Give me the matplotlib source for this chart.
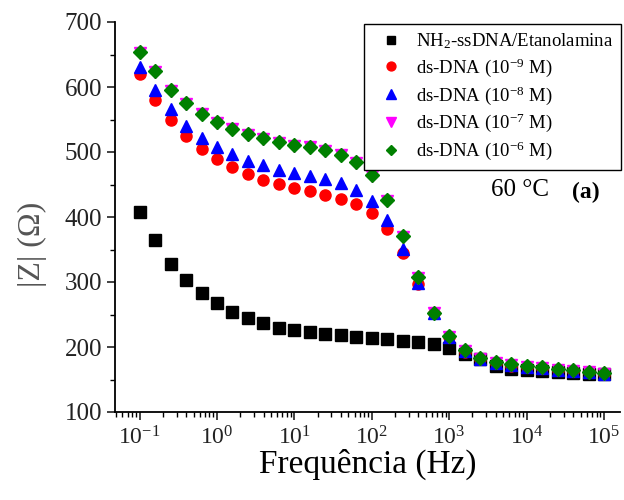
import numpy as np
import matplotlib
matplotlib.use('Agg')
import matplotlib.pyplot as plt

plt.rcParams['font.family'] = ['Liberation Serif', 'DejaVu Serif']
plt.rcParams['mathtext.fontset'] = 'custom'
plt.rcParams['mathtext.rm'] = 'Liberation Serif'
plt.rcParams['mathtext.it'] = 'Liberation Serif:italic'
plt.rcParams['mathtext.bf'] = 'Liberation Serif:bold'

# Frequências: 5 pontos por década, de 0.1 Hz a 100 kHz
freq = 10 ** np.linspace(-1, 5, 31)

z_etanolamina = [407, 364, 328, 303, 283, 267, 254, 245, 237, 230,
                 226, 223, 220, 218, 216, 214, 212, 210, 208, 205,
                 198, 189, 181, 171, 166, 164, 163, 161, 160, 159, 159]
z_dna_9 = [620, 580, 549, 524, 504, 489, 477, 466, 457, 451,
           445, 440, 434, 428, 420, 406, 382, 344, 297, 252,
           215, 193, 181, 175, 171, 169, 167, 165, 163, 161, 159]
z_dna_8 = [631, 596, 566, 540, 522, 508, 497, 486, 480, 473,
           467, 463, 458, 452, 442, 425, 396, 351, 298, 252,
           215, 194, 182, 176, 173, 170, 168, 165, 163, 161, 159]
z_dna_7 = [653, 623, 594, 574, 558, 545, 535, 526, 520, 514,
           510, 507, 502, 495, 483, 463, 425, 370, 306, 252,
           216, 194, 182, 176, 173, 170, 168, 165, 163, 161, 159]
z_dna_6 = [654, 624, 595, 575, 559, 546, 536, 527, 522, 515,
           511, 508, 503, 496, 484, 464, 426, 371, 307, 253,
           217, 195, 183, 177, 174, 171, 169, 166, 164, 162, 160]

labels = ['NH$_2$-ssDNA/Etanolamina', 'ds-DNA (10$^{-9}$ M)',
          'ds-DNA (10$^{-8}$ M)', 'ds-DNA (10$^{-7}$ M)',
          'ds-DNA (10$^{-6}$ M)']
x_ticks = [1e-1, 1e0, 1e1, 1e2, 1e3, 1e4, 1e5]
x_ticklabels = ['10$^{-1}$', '10$^{0}$', '10$^{1}$', '10$^{2}$',
                '10$^{3}$', '10$^{4}$', '10$^{5}$']

fig = plt.figure(figsize=(6.24, 5.0), dpi=100)
ax = fig.add_axes([0.184, 0.176, 0.81, 0.78])

ax.plot(freq, z_etanolamina, 's', color='black', ms=8, label=labels[0])
ax.plot(freq, z_dna_9, 'o', color='red', ms=8, label=labels[1])
ax.plot(freq, z_dna_8, '^', color='blue', ms=8.5, label=labels[2])
ax.plot(freq, z_dna_7, 'v', color='magenta', ms=8.5, label=labels[3])
ax.plot(freq, z_dna_6, 'D', color='green', ms=7, label=labels[4])

ax.set_xscale('log')
ax.set_xlim(10 ** -1.32, 10 ** 5.21)
ax.set_xticks(x_ticks)
ax.set_xticklabels(x_ticklabels)
ax.set_xticks([m * 10.0 ** e for e in range(-2, 6) for m in range(2, 10)
               if 10 ** -1.32 < m * 10.0 ** e < 10 ** 5.21], minor=True)
ax.set_ylim(100, 700)
ax.set_yticks(np.arange(100, 701, 100))
ax.set_yticks(np.arange(150, 700, 100), minor=True)

ax.spines['top'].set_visible(False)
ax.spines['right'].set_visible(False)
ax.spines['left'].set_linewidth(1.3)
ax.spines['bottom'].set_linewidth(1.3)
ax.tick_params(which='major', direction='out', length=6, width=1.2,
               colors='#222222')
ax.tick_params(axis='y', which='major', labelsize=18, pad=3)
ax.tick_params(axis='x', which='major', labelsize=17, pad=4)
ax.tick_params(which='minor', direction='out', length=3.5, width=1.0,
               labelbottom=False)

ax.set_xlabel('Frequência (Hz)', fontsize=24, labelpad=0)
ax.set_ylabel('|Z| (Ω)', fontsize=23, color='#555555')
ax.yaxis.set_label_coords(-0.135, 0.43)

ax.text(10 ** 3.92, 441, '60 °C', fontsize=18, ha='center', va='center')
ax.text(10 ** 4.76, 437, '(a)', fontsize=17, fontweight='bold',
        ha='center', va='center')

leg = ax.legend(loc='upper right', bbox_to_anchor=(1.005, 1.0), fontsize=13.5,
                fancybox=False, framealpha=1, edgecolor='black',
                borderpad=0.4, labelspacing=0.28, handlelength=2.0,
                handletextpad=0.35, markerscale=0.8, borderaxespad=0.1)
leg.get_frame().set_linewidth(1.0)

fig.savefig('out.png', dpi=100)
